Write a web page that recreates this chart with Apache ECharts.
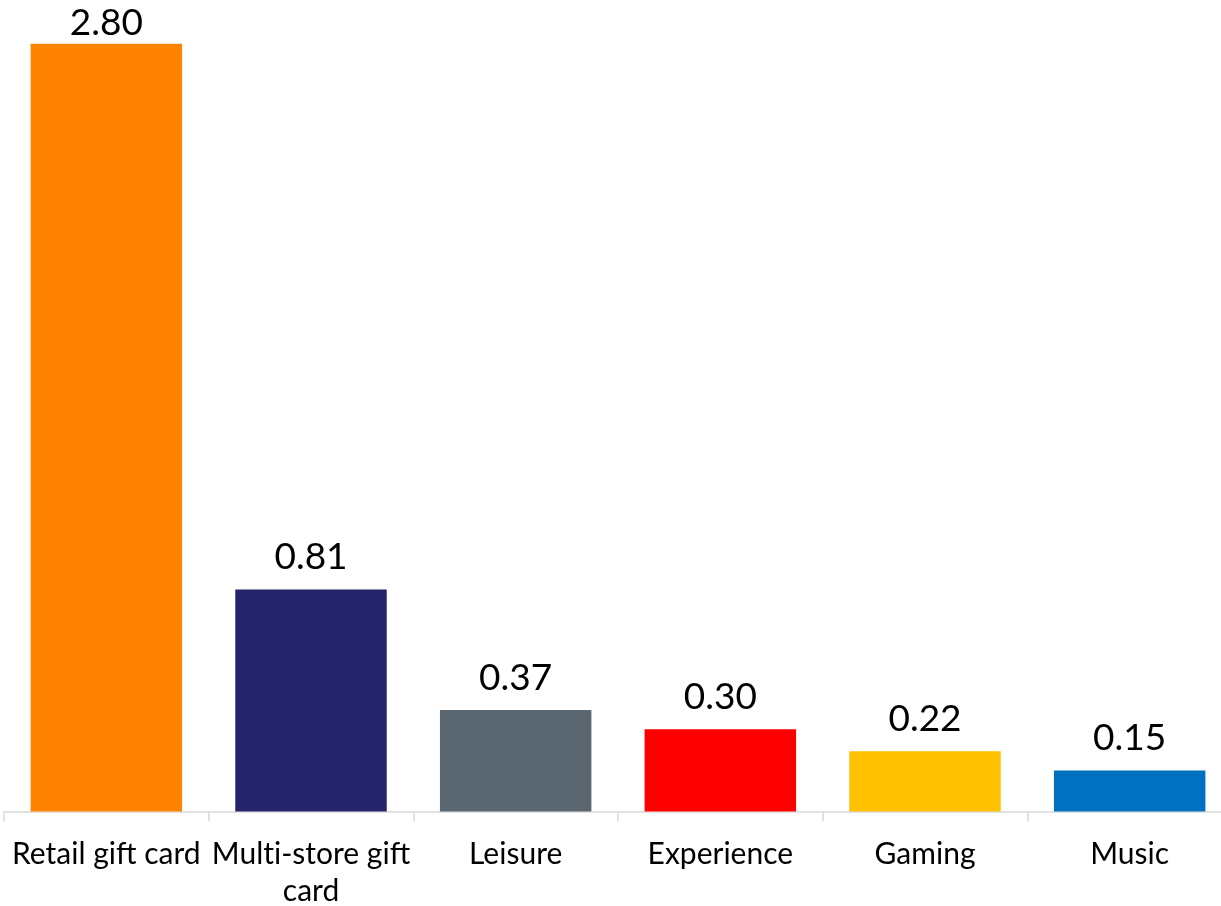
<!DOCTYPE html>
<html>
<head>
<meta charset="utf-8">
<script src="https://cdn.jsdelivr.net/npm/echarts@6/dist/echarts.min.js"></script>
<style>
  html, body { margin: 0; padding: 0; background: #ffffff; }
  #chart { width: 1221px; height: 906px; }
</style>
</head>
<body>
<div id="chart"></div>
<script>
// Gift card categories and their values
const categories = ['Retail gift card', 'Multi-store gift card', 'Leisure', 'Experience', 'Gaming', 'Music'];
const values = [2.80, 0.81, 0.37, 0.30, 0.22, 0.15];
const barColors = ['#FF8300', '#24246A', '#5B6770', '#FF0000', '#FFC000', '#0070C0'];

// Long category names move their last word to a second line;
// a zero-width non-joiner keeps "ti" from forming a ligature.
function formatCategory(name) {
  let s = name;
  if (s.length > 16) {
    const k = s.lastIndexOf(' ');
    s = s.slice(0, k) + '\n' + s.slice(k + 1);
  }
  return s.replace(/ti/g, 't\u200Ci');
}

const chart = echarts.init(document.getElementById('chart'));
chart.setOption({
  animation: false,
  grid: { left: 4, width: 1228, top: 0, height: 811.5, containLabel: false, outerBoundsMode: 'none' },
  xAxis: {
    type: 'category',
    data: categories,
    axisLine: { show: true, lineStyle: { color: '#D9D9D9', width: 1.5 } },
    axisTick: { show: true, length: 10, lineStyle: { color: '#D9D9D9', width: 1.5 } },
    axisLabel: {
      color: '#000000',
      fontFamily: 'Lato',
      fontSize: 30,
      margin: 24,
      lineHeight: 37,
      interval: 0,
      formatter: formatCategory
    }
  },
  yAxis: {
    type: 'value',
    min: 0,
    max: 2.96,
    show: false,
    splitLine: { show: false }
  },
  series: [{
    type: 'bar',
    data: values.map((v, i) => ({
      value: v,
      itemStyle: { color: barColors[i] },
      // tallest bar keeps its label inside the canvas top edge
      label: i === 0 ? { distance: 2 } : undefined
    })),
    barCategoryGap: '26%',
    label: {
      show: true,
      position: 'top',
      distance: 14,
      color: '#000000',
      fontFamily: 'Lato',
      fontSize: 37,
      formatter: p => p.value.toFixed(2)
    }
  }]
});
</script>
</body>
</html>
